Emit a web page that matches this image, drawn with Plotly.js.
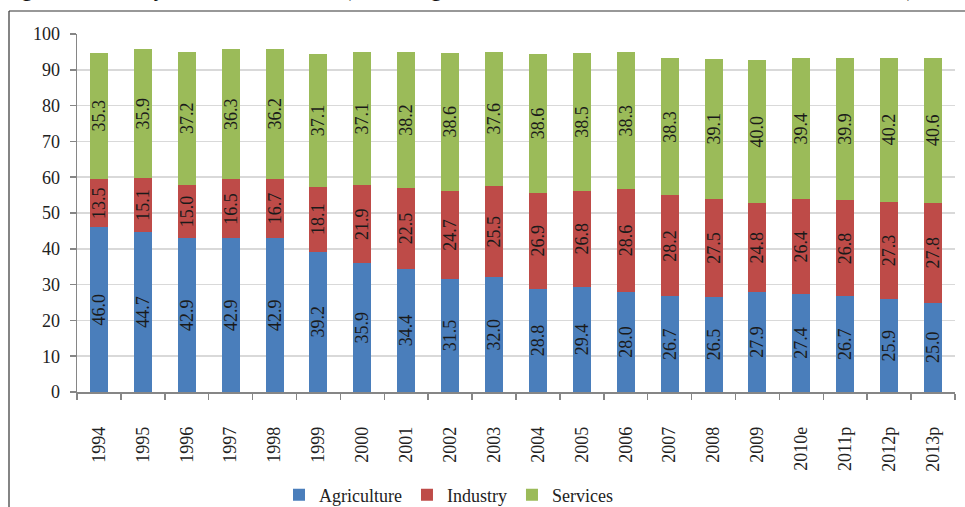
<!DOCTYPE html>
<html>
<head>
<meta charset="utf-8">
<script src="https://cdn.plot.ly/plotly-3.0.1.min.js"></script>
<style>html,body{margin:0;padding:0;background:#fff;}#chart{width:965px;height:507px;}</style>
</head>
<body>
<div id="chart"></div>
<script>
const years = ["1994","1995","1996","1997","1998","1999","2000","2001","2002","2003","2004","2005","2006","2007","2008","2009","2010e","2011p","2012p","2013p"];
const agriculture = [46.0,44.7,42.9,42.9,42.9,39.2,35.9,34.4,31.5,32.0,28.8,29.4,28.0,26.7,26.5,27.9,27.4,26.7,25.9,25.0];
const industry = [13.5,15.1,15.0,16.5,16.7,18.1,21.9,22.5,24.7,25.5,26.9,26.8,28.6,28.2,27.5,24.8,26.4,26.8,27.3,27.8];
const services = [35.3,35.9,37.2,36.3,36.2,37.1,37.1,38.2,38.6,37.6,38.6,38.5,38.3,38.3,39.1,40.0,39.4,39.9,40.2,40.6];
const seriesNames = ["Agriculture","Industry","Services"];
const titleText = "Figure 1: GDP by Economic Sectors (Percentage Share of GDP at Constant Market Prices of 2000)";

const FONT = "Liberation Serif";
const colors = ["#4A7EBB","#BE4B48","#9BBB59"];
const data = [agriculture, industry, services].map((vals, i) => ({
  type: "bar",
  name: seriesNames[i],
  x: years,
  y: vals,
  text: vals.map(v => v.toFixed(1)),
  textposition: "inside",
  insidetextanchor: "middle",
  textangle: -90,
  constraintext: "none",
  textfont: {family: FONT, size: 18, color: "#1a1a1a"},
  insidetextfont: {family: FONT, size: 18, color: "#1a1a1a"},
  marker: {color: colors[i], line: {width: 0}},
  hoverinfo: "skip"
}));

const L = 77, R = 10, T = 34, B = 115, W = 965, H = 507;
const pw = W - L - R, ph = H - T - B;
const px = x => (x - L) / pw;
const py = y => (H - B - y) / ph;

const layout = {
  width: W, height: H,
  margin: {l: L, r: R, t: T, b: B, pad: 0, autoexpand: false},
  paper_bgcolor: "#ffffff",
  plot_bgcolor: "#ffffff",
  barmode: "stack",
  bargap: 0.59,
  showlegend: true,
  hovermode: false,
  font: {family: FONT, size: 18, color: "#222"},
  xaxis: {
    type: "category",
    automargin: false,
    tickangle: -90,
    ticks: "outside",
    tickson: "boundaries",
    ticklen: 6,
    tickcolor: "#868686",
    tickwidth: 1.5,
    showline: true,
    linecolor: "#868686",
    linewidth: 1.5,
    showgrid: false,
    ticklabelstandoff: 26,
    tickfont: {family: FONT, size: 18, color: "#222"}
  },
  yaxis: {
    automargin: false,
    range: [0, 100],
    dtick: 10,
    tick0: 0,
    ticks: "outside",
    ticklen: 6,
    tickcolor: "#868686",
    tickwidth: 1.5,
    showline: true,
    linecolor: "#868686",
    linewidth: 1.5,
    showgrid: true,
    gridcolor: "#d9d9d9",
    gridwidth: 1.5,
    zeroline: false,
    ticklabelstandoff: 6,
    tickfont: {family: FONT, size: 18, color: "#222"}
  },
  legend: {
    orientation: "h",
    x: px(279), xanchor: "left",
    y: py(495), yanchor: "middle",
    font: {family: FONT, size: 18, color: "#222"},
    bgcolor: "rgba(0,0,0,0)",
    traceorder: "normal"
  },
  shapes: [
    {type: "line", xref: "paper", yref: "paper", x0: px(9), x1: px(9), y0: py(11), y1: py(520), line: {color: "#333", width: 1.2}},
    {type: "line", xref: "paper", yref: "paper", x0: px(9), x1: px(980), y0: py(11), y1: py(11), line: {color: "#333", width: 1.2}}
  ],
  annotations: [
    {text: titleText, xref: "paper", yref: "paper", x: px(0), xanchor: "left", y: 1, yanchor: "bottom", yshift: 31, showarrow: false, font: {family: FONT, size: 23, color: "#111"}}
  ]
};

Plotly.newPlot("chart", data, layout, {staticPlot: true, displayModeBar: false});
</script>
</body>
</html>
